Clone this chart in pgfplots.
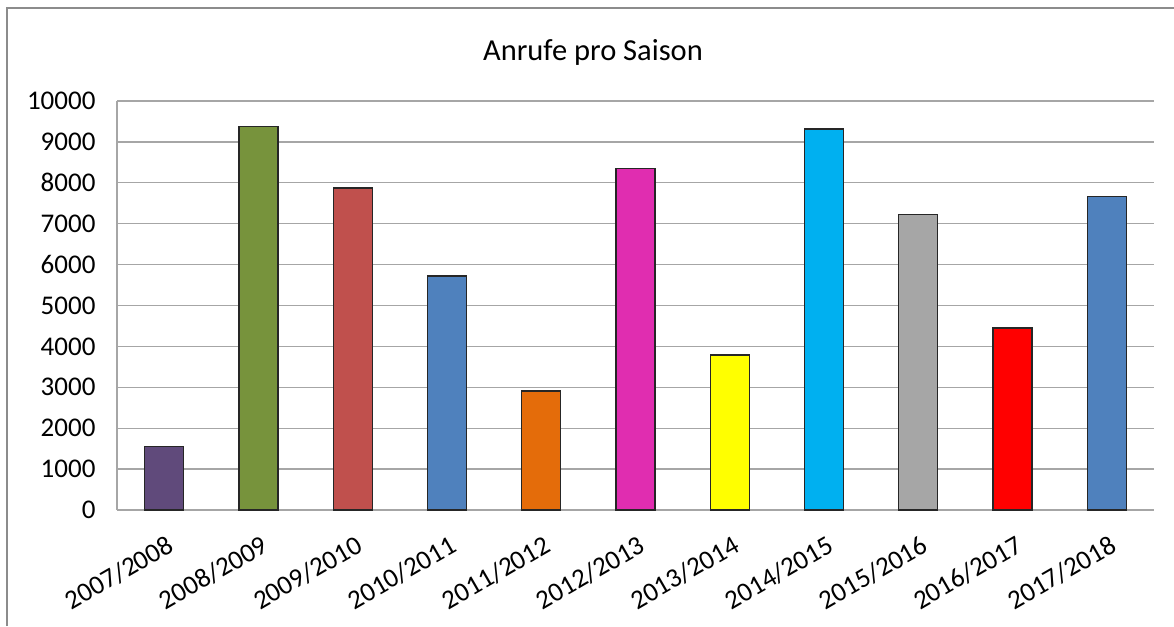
\documentclass[border=0pt]{standalone}
\usepackage{pgfplots}
\pgfplotsset{compat=1.18}
\usepackage{fontspec}
\setmainfont{Carlito}
\definecolor{c1}{HTML}{604A7B}
\definecolor{c2}{HTML}{77933C}
\definecolor{c3}{HTML}{C0504D}
\definecolor{c4}{HTML}{4F81BD}
\definecolor{c5}{HTML}{E46C0A}
\definecolor{c6}{HTML}{E02DB0}
\definecolor{c7}{HTML}{FFFF00}
\definecolor{c8}{HTML}{00B0F0}
\definecolor{c9}{HTML}{A6A6A6}
\definecolor{c10}{HTML}{FF0000}
\definecolor{c11}{HTML}{4F81BD}
\definecolor{gridgray}{HTML}{A6A6A6}
\definecolor{framegray}{HTML}{8C8C8C}
\begin{document}
\begin{tikzpicture}[x=1pt,y=1pt]
\useasboundingbox (0,0) rectangle (1174,626);
\draw[color=framegray, line width=2.5] (7,0) -- (7,618) -- (1174,618);
\node[font=\fontsize{30.5}{36}\selectfont, text=black] at (593,574) {Anrufe pro Saison};
\begin{axis}[
  at={(117pt,116pt)}, anchor=south west,
  scale only axis, width=1037pt, height=409pt,
  xmin=-0.5, xmax=10.5, ymin=0, ymax=10000,
  ytick={0,1000,...,10000},
  xtick={0,...,10},
  xticklabels={2007/2008,2008/2009,2009/2010,2010/2011,2011/2012,2012/2013,2013/2014,2014/2015,2015/2016,2016/2017,2017/2018},
  ybar, bar width=39pt,
  mybar/.style={fill=#1, draw=black!85, line width=1.3pt, bar shift=0pt},
  axis x line*=bottom, axis y line*=left,
  axis line style={gridgray, line width=1.3pt, -},
  ymajorgrids, grid style={gridgray, line width=1.3pt},
  major tick length=0pt,
  tick style={draw=none},
  /pgf/number format/assume math mode=true,
  scaled y ticks=false,
  /pgf/number format/set thousands separator={},
  tick label style={font=\fontsize{27}{32}\selectfont, text=black},
  yticklabel style={xshift=-18pt},
  xticklabel style={xshift=2pt, yshift=-24pt, rotate=30, anchor=north east, inner sep=0pt},
]
\addplot[mybar=c1] coordinates {(0,1560)};
\addplot[mybar=c2] coordinates {(1,9370)};
\addplot[mybar=c3] coordinates {(2,7870)};
\addplot[mybar=c4] coordinates {(3,5720)};
\addplot[mybar=c5] coordinates {(4,2910)};
\addplot[mybar=c6] coordinates {(5,8345)};
\addplot[mybar=c7] coordinates {(6,3790)};
\addplot[mybar=c8] coordinates {(7,9318)};
\addplot[mybar=c9] coordinates {(8,7225)};
\addplot[mybar=c10] coordinates {(9,4450)};
\addplot[mybar=c11] coordinates {(10,7665)};
\end{axis}
\end{tikzpicture}
\end{document}
